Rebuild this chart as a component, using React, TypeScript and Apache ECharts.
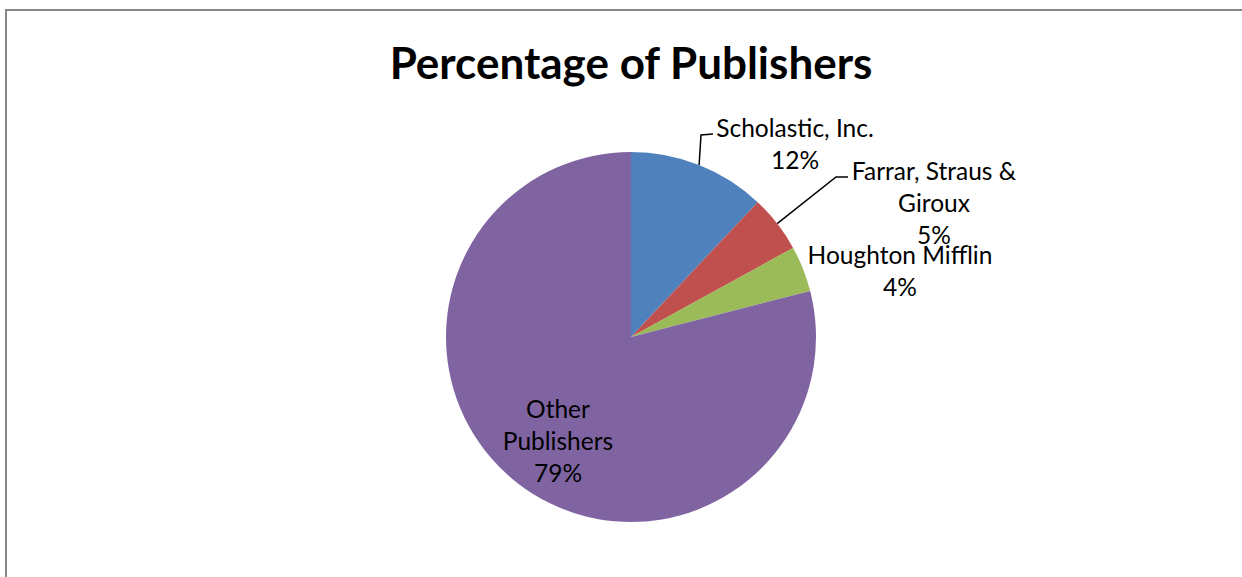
import React, { useEffect, useRef } from "react";
import * as echarts from "echarts";

const publishers = ["Scholastic, Inc.", "Farrar, Straus & Giroux", "Houghton Mifflin", "Other Publishers"];
const shares = [12, 5, 4, 79];
const colors = ["#4F81BD", "#C0504D", "#9BBB59", "#8064A2"];
const labelTexts = ["Scholastic, Inc.\n12%", "Farrar, Straus &\nGiroux\n5%", "Houghton Mifflin\n4%", "Other\nPublishers\n79%"];
const titleText = "Percentage of Publishers";

const FONT = "Lato, 'Noto Sans', sans-serif";

// label centres (px) and leader-line bends
const labelCenters: number[][] = [
  [795, 143],
  [934, 202],
  [900, 270],
  [558, 440],
];
const leaderBends: (number[][] | null)[] = [
  [[701, 135], [713, 134]],
  [[836, 177], [848, 177]],
  null,
  null,
];

export default function App() {
  const ref = useRef<HTMLDivElement>(null);
  useEffect(() => {
    if (!ref.current) return;
    const chart = echarts.init(ref.current, undefined, { renderer: "svg" });
    chart.setOption({
      animation: false,
      backgroundColor: "#ffffff",
      graphic: [
        {
          type: "rect",
          shape: { x: 6, y: 10, width: 1300, height: 700 },
          style: { fill: "none", stroke: "#868686", lineWidth: 2 },
          silent: true,
        },
        {
          type: "text",
          x: 631,
          y: 62,
          style: {
            text: titleText,
            font: `bold 44px ${FONT}`,
            fill: "#000000",
            align: "center",
            verticalAlign: "middle",
          },
        },
      ],
      series: [
        {
          type: "pie",
          center: [631, 337],
          radius: 185,
          startAngle: 90,
          clockwise: true,
          avoidLabelOverlap: false,
          itemStyle: { borderWidth: 0 },
          label: {
            show: true,
            position: "outside",
            fontFamily: FONT,
            fontSize: 24.5,
            lineHeight: 32,
            color: "#000000",
            align: "center",
          },
          labelLine: { show: true, length: 10, length2: 10, lineStyle: { color: "#000000", width: 1.5 } },
          labelLayout: (params: any) => {
            const i = params.dataIndex;
            const c = labelCenters[i];
            const out: any = { x: c[0], y: c[1], align: "center", verticalAlign: "middle" };
            const bends = leaderBends[i];
            if (bends && params.labelLinePoints) {
              out.labelLinePoints = [params.labelLinePoints[0], bends[0], bends[1]];
            }
            return out;
          },
          data: publishers.map((name, i) => ({
            name,
            value: shares[i],
            itemStyle: { color: colors[i] },
            label: { formatter: labelTexts[i] },
            labelLine: { show: leaderBends[i] !== null },
          })),
        },
      ],
    });
    return () => chart.dispose();
  }, []);
  return (
    <div
      ref={ref}
      style={{ position: "fixed", left: 0, top: 0, width: 1242, height: 577 }}
    />
  );
}
